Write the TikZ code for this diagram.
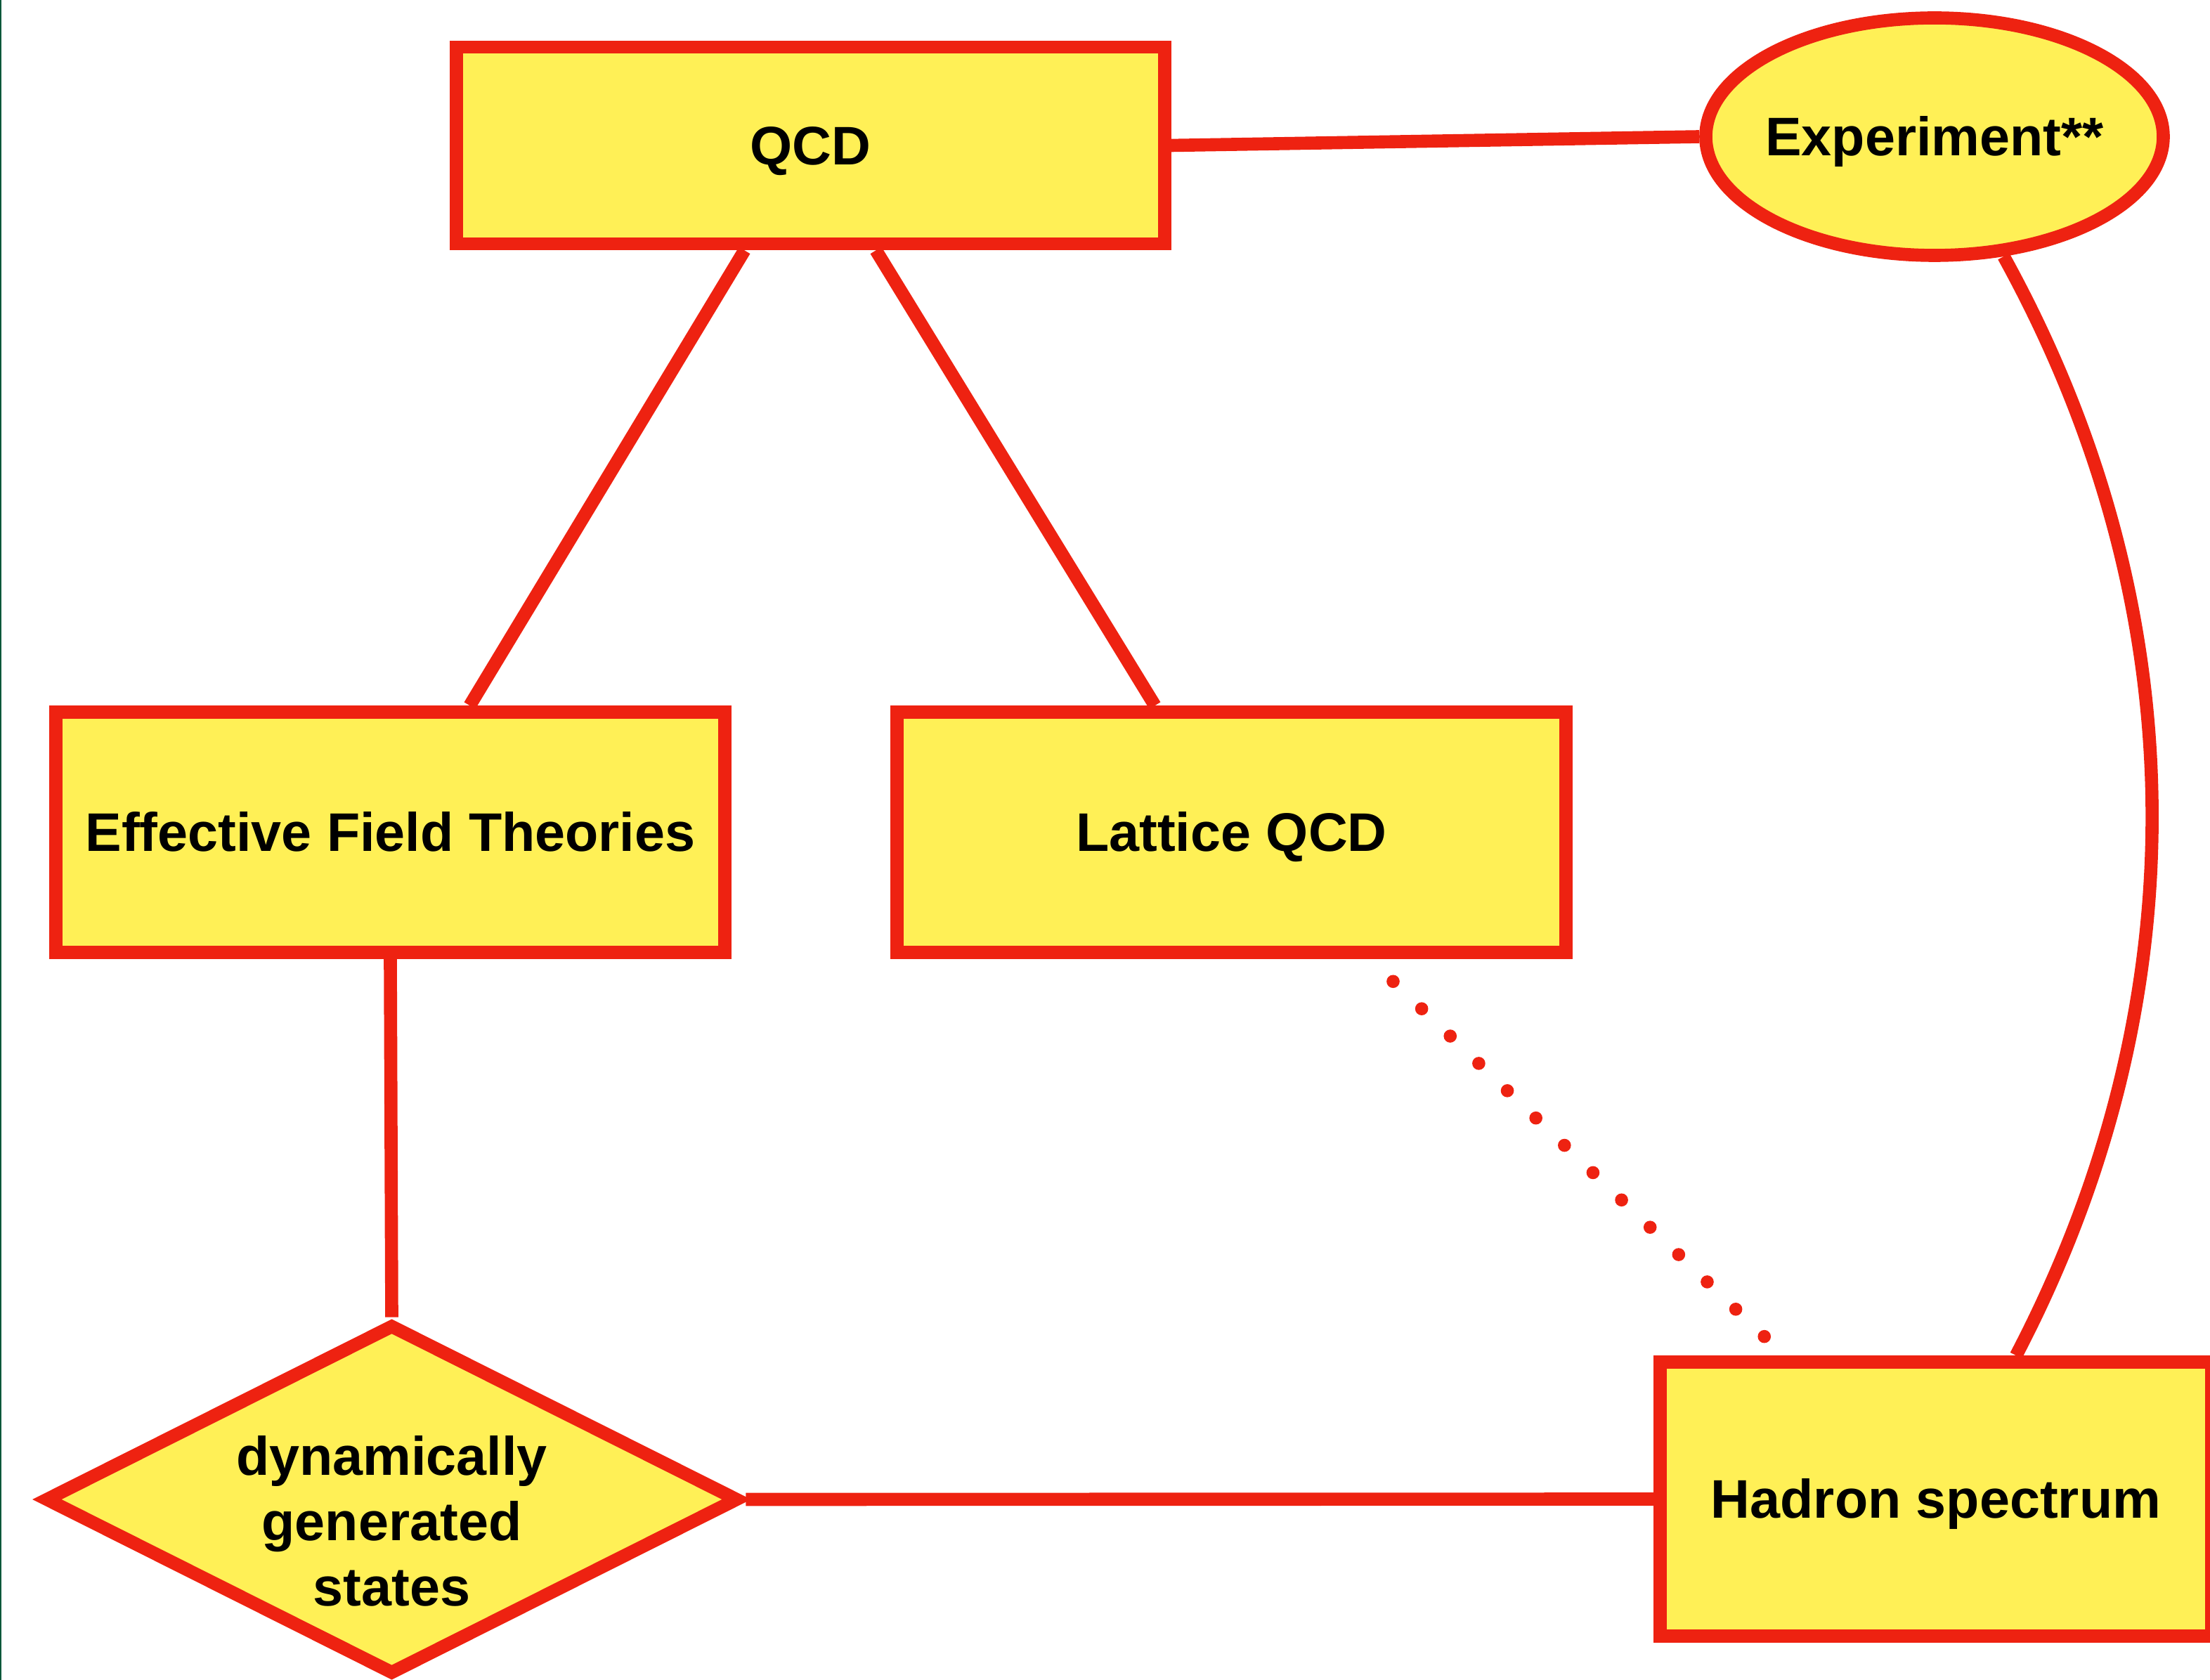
\documentclass[tikz,border=0pt]{standalone}
\usepackage{fontspec}
\setmainfont{Liberation Sans}
\usetikzlibrary{shapes.geometric}
\definecolor{boxred}{RGB}{238,34,17}
\definecolor{boxyellow}{RGB}{255,240,86}
\definecolor{edgegreen}{RGB}{8,88,58}
\begin{document}
\begin{tikzpicture}[
  every node/.style={font=\fontsize{22}{26.5}\selectfont\bfseries,text=black},
  topic/.style={rectangle,draw=boxred,fill=boxyellow,line width=5.3pt,inner sep=0pt,text height=17.6pt,text depth=2.2pt},
  exper/.style={ellipse,draw=boxred,fill=boxyellow,line width=5.3pt,inner sep=-0.3cm,text height=17.6pt,text depth=2.2pt,minimum width=6.51cm,minimum height=3.38cm},
  dgsbox/.style={diamond,draw=boxred,fill=boxyellow,line width=5.3pt,inner sep=-0.15cm,aspect=2,minimum width=9.89cm,minimum height=5.0cm},
  link/.style={draw=boxred,line width=5.3pt},
  dotlink/.style={draw=boxred,line width=5.3pt,line cap=round,dash pattern=on 0pt off 16pt}]
\useasboundingbox (0,0) rectangle (31.45,-23.91);
\fill[edgegreen] (0,0) rectangle (0.025,-23.91);
\node[topic,minimum width=10.08cm,minimum height=2.8cm] (qcd) at (11.535,-2.07) {QCD};
\node[exper] (exp) at (27.53,-1.945) {Experiment**};
\node[topic,minimum width=9.52cm,minimum height=3.42cm] (eft) at (5.555,-11.845) {Effective Field Theories};
\node[topic,minimum width=9.52cm,minimum height=3.42cm] (lat) at (17.525,-11.845) {Lattice QCD};
\node[dgsbox] (dgs) at (5.575,-21.34) {\raisebox{-0.4cm}[\height][\depth]{\begin{tabular}{@{}c@{}}dynamically\\generated\\states\end{tabular}}};
\node[topic,minimum width=7.85cm,minimum height=3.9cm] (had) at (27.55,-21.335) {Hadron spectrum};
\draw[link] (qcd.east) -- (exp.west);
\draw[link] ([xshift=-0.94cm]qcd.south) -- ([xshift=1.13cm]eft.north);
\draw[link] ([xshift=0.93cm]qcd.south) -- ([xshift=-1.09cm]lat.north);
\draw[link] (eft.south) -- (dgs.north);
\draw[link] (dgs.east) -- (had.west);
\draw[dotlink] ([shift={(2.30,-0.32)}]lat.south) -- ([shift={(-2.39,0.22)}]had.north);
\draw[link] (exp.-60) .. controls (31.30,-8.7) and (31.30,-14.3) .. ([xshift=1.14cm]had.north);
\end{tikzpicture}
\end{document}
